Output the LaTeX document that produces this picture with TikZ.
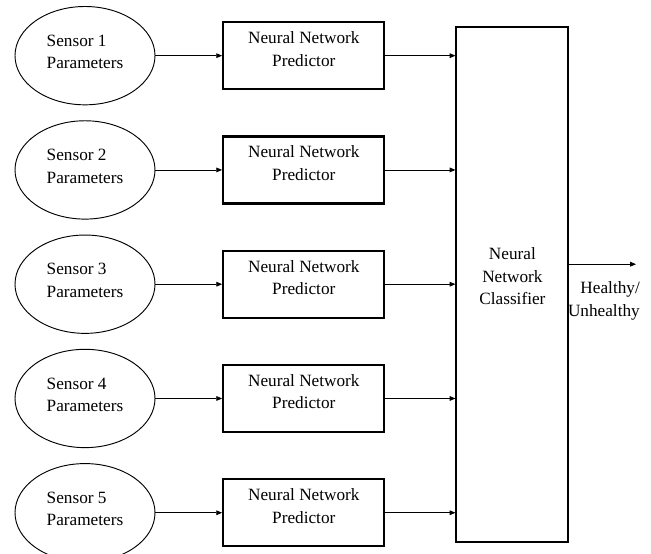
\documentclass[tikz,border=0pt]{standalone}
\usepackage{fontspec}
\setmainfont{Liberation Serif}
\usepackage{tikz}
\usetikzlibrary{arrows.meta}
\usetikzlibrary{positioning}
\usetikzlibrary{shapes.geometric}

\begin{document}
\begin{tikzpicture}
  [
    node distance = 0.45cm and 2cm,
    > = {Triangle[length=5pt, width=4pt]},
    txt/.style = {font = \fontsize{14.7}{19.2}\selectfont},
    sensor/.style = {txt, draw, ellipse, line width = 0.8pt, minimum width = 4.2cm,
                    minimum height = 2.95cm, inner sep = 0pt, align = left, text depth = 6.5pt},
    pred/.style = {txt, draw, rectangle, line width = 2pt, minimum width = 4.83cm,
                  minimum height = 2.01cm, inner sep = 0pt, align = center, text depth = 11.7pt},
    clf/.style = {pred, line width = 1.6pt, minimum width = 3.36cm, minimum height = 15.45cm,
                 text depth = 13.3pt},
    outtext/.style = {txt, inner sep = 0pt, align = right},
    conn/.style = {->, line width = 0.7pt},
  ]

  \useasboundingbox (0,0) rectangle (19.53,16.62);

  \node[sensor] at (2.55,14.95) (s1) {Sensor 1\\Parameters};
  \node[sensor] [below = of s1] (s2) {Sensor 2\\Parameters};
  \node[sensor] [below = of s2] (s3) {Sensor 3\\Parameters};
  \node[sensor] [below = of s3] (s4) {Sensor 4\\Parameters};
  \node[sensor] [below = of s4] (s5) {Sensor 5\\Parameters};

  \node[pred] [right = of s1] (p1) {Neural Network\\Predictor}
    edge[conn, <-](s1);
  \node[pred] [right = of s2] (p2) {Neural Network\\Predictor}
    edge[conn, <-](s2);
  \node[pred] [right = of s3] (p3) {Neural Network\\Predictor}
    edge[conn, <-](s3);
  \node[pred] [right = of s4] (p4) {Neural Network\\Predictor}
    edge[conn, <-](s4);
  \node[pred] [right = of s5] (p5) {Neural Network\\Predictor}
    edge[conn, <-](s5);

  \node[clf] [right = 2.1cm of p3] (cls) {Neural\\Network\\Classifier};

  \draw[conn] (p1.east) -- (p1.east -| cls.west);
  \draw[conn] (p2.east) -- (p2.east -| cls.west);
  \draw[conn] (p3.east) -- (p3.east -| cls.west);
  \draw[conn] (p4.east) -- (p4.east -| cls.west);
  \draw[conn] (p5.east) -- (p5.east -| cls.west);

  % output
  \coordinate[right = 2cm of cls.east, yshift = 0.6cm] (out);
  \draw[conn] ([yshift = 0.6cm]cls.east) -- (out);
  \node[outtext] [below left = 0.52cm and -0.12cm of out] (status) {Healthy/\\Unhealthy};

\end{tikzpicture}
\end{document}
